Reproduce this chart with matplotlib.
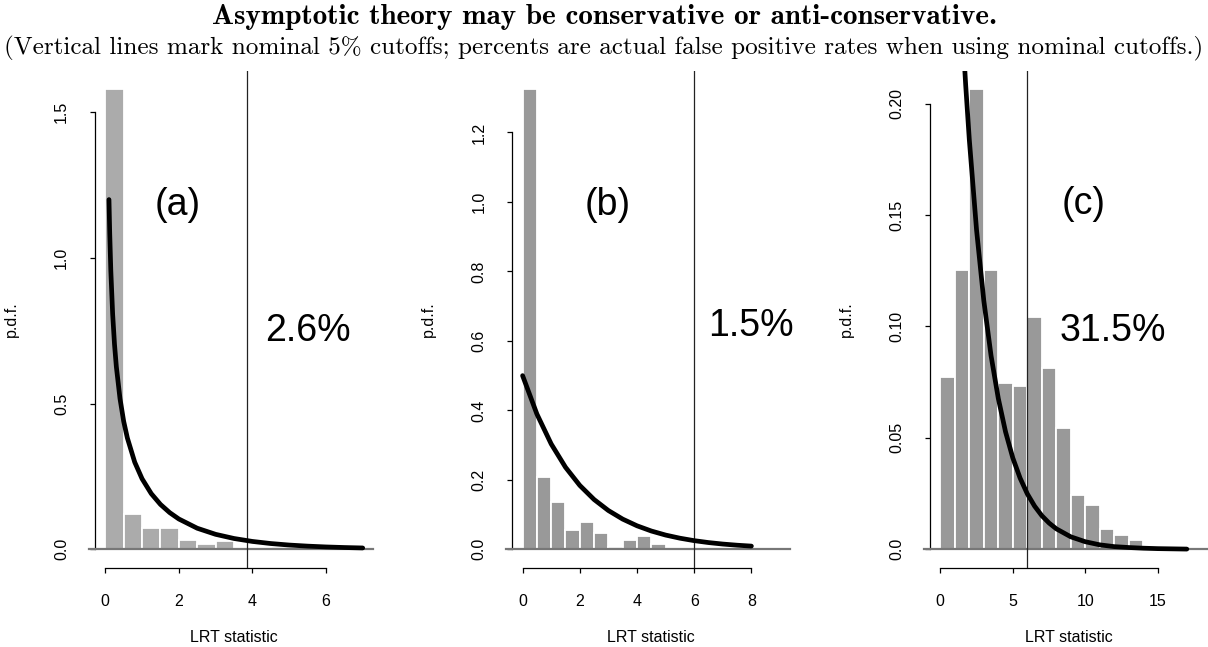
import numpy as np
import matplotlib
matplotlib.use("Agg")
import matplotlib.pyplot as plt

# ---------------- data ----------------
title = "Asymptotic theory may be conservative or anti-conservative."
subtitle = ("(Vertical lines mark nominal 5% cutoffs; percents are actual "
            "false positive rates when using nominal cutoffs.)")
panel_labels = ["(a)", "(b)", "(c)"]
fp_rates = ["2.6%", "1.5%", "31.5%"]
x_label = "LRT statistic"
y_label = "p.d.f."

cutoffs = [3.84, 5.99, 5.99]
bin_widths = [0.5, 0.5, 1.0]

hist_a = [1.578, 0.1215, 0.0733, 0.0733, 0.0332, 0.0195, 0.0298, 0.0, 0.0, 0.008]
hist_b = [1.324, 0.208, 0.1366, 0.0568, 0.0779, 0.047, 0.0067, 0.026, 0.0395,
          0.0164, 0.0, 0.005, 0.005, 0.0, 0.0, 0.004]
hist_c = [0.0773, 0.1254, 0.2064, 0.1254, 0.0745, 0.0734, 0.1042, 0.0814,
          0.0543, 0.0243, 0.0201, 0.0093, 0.0063, 0.0042, 0.001]

curve_a_x = [0.10, 0.12, 0.15, 0.20, 0.25, 0.30, 0.40, 0.50, 0.60, 0.80, 1.00,
             1.25, 1.50, 1.75, 2.00, 2.50, 3.00, 3.50, 4.00, 4.50, 5.00, 5.50,
             6.00, 6.50, 7.00]
curve_a_y = [1.200, 1.085, 0.956, 0.807, 0.704, 0.627, 0.517, 0.439, 0.382,
             0.299, 0.242, 0.191, 0.154, 0.126, 0.104, 0.0723, 0.0514, 0.0371,
             0.0270, 0.0198, 0.0146, 0.0109, 0.0081, 0.0061, 0.0046]

curve_b_x = [0.0, 0.5, 1.0, 1.5, 2.0, 2.5, 3.0, 3.5, 4.0, 4.5, 5.0, 5.5, 6.0,
             6.5, 7.0, 7.5, 8.0]
curve_b_y = [0.500, 0.3894, 0.3033, 0.2362, 0.1839, 0.1433, 0.1116, 0.0869,
             0.0677, 0.0527, 0.0410, 0.0320, 0.0249, 0.0194, 0.0151, 0.0118,
             0.0092]

curve_c_x = [1.0, 1.25, 1.5, 1.75, 2.0, 2.5, 3.0, 3.5, 4.0, 4.5, 5.0, 5.5, 6.0,
             6.5, 7.0, 7.5, 8.0, 9.0, 10.0, 11.0, 12.0, 13.0, 14.0, 15.0, 16.0,
             17.0]
curve_c_y = [0.3033, 0.2676, 0.2362, 0.2084, 0.1839, 0.1433, 0.1116, 0.0869,
             0.0677, 0.0527, 0.0410, 0.0320, 0.0249, 0.0194, 0.0151, 0.0118,
             0.0092, 0.0056, 0.0034, 0.0020, 0.0012, 0.0008, 0.0005, 0.0003,
             0.0002, 0.0001]

x_ticks = [[0, 2, 4, 6], [0, 2, 4, 6, 8], [0, 5, 10, 15]]
y_ticks = [[0.0, 0.5, 1.0, 1.5],
           [0.0, 0.2, 0.4, 0.6, 0.8, 1.0, 1.2],
           [0.0, 0.05, 0.10, 0.15, 0.20]]
y_ticklabels = [["0.0", "0.5", "1.0", "1.5"],
                ["0.0", "0.2", "0.4", "0.6", "0.8", "1.0", "1.2"],
                ["0.0", "0.05", "0.10", "0.15", "0.20"]]
x_data_ranges = [(0.0, 7.0), (0.0, 9.0), (0.0, 17.75)]

# label positions (data coords)
label_pos = [(1.98, 1.18), (2.97, 0.99), (9.89, 0.155)]
rate_pos = [(5.52, 0.75), (8.0, 0.644), (11.9, 0.098)]

bar_colors = ["#ababab", "#999999", "#999999"]

# ---------------- figure ----------------
plt.rcParams['font.family'] = ['Liberation Sans', 'DejaVu Sans']

W, H = 1208, 647
fig = plt.figure(figsize=(W / 100, H / 100), dpi=100)

lefts_px = [95, 512.3, 930]
width_px = 278
top_px, bottom_px = 71, 567.7

hists = [hist_a, hist_b, hist_c]
curves = [(curve_a_x, curve_a_y), (curve_b_x, curve_b_y), (curve_c_x, curve_c_y)]

for i in range(3):
    ax = fig.add_axes([lefts_px[i] / W, (H - bottom_px) / H,
                       width_px / W, (bottom_px - top_px) / H])
    heights = hists[i]
    bw = bin_widths[i]
    edges = np.arange(len(heights)) * bw
    ax.bar(edges, heights, width=bw, align='edge', color=bar_colors[i],
           edgecolor='white', linewidth=1.3, zorder=2)

    # baseline
    ax.axhline(0, xmin=-0.021, xmax=1.0, color='#777777', lw=1.6,
               clip_on=False, zorder=3)
    # cutoff
    ax.axvline(cutoffs[i], color='#222222', lw=0.9, zorder=3)
    # density curve
    cx, cy = curves[i]
    ax.plot(cx, cy, color='black', lw=3.4, solid_capstyle='round',
            zorder=4)

    lo, hi = x_data_ranges[i]
    ext = 0.04 * (hi - lo)
    ax.set_xlim(lo - ext, hi + ext)
    M = max(heights)
    ax.set_ylim(-0.04 * M, 1.04 * M)

    ax.set_xticks(x_ticks[i])
    ax.set_xticklabels([str(t) for t in x_ticks[i]], fontsize=11.5)
    ax.set_yticks(y_ticks[i])
    ax.set_yticklabels(y_ticklabels[i], rotation=90, va='center', fontsize=11.5)

    for s in ['top', 'right']:
        ax.spines[s].set_visible(False)
    ax.spines['left'].set_bounds(y_ticks[i][0], y_ticks[i][-1])
    ax.spines['bottom'].set_bounds(x_ticks[i][0], x_ticks[i][-1])
    ax.spines['left'].set_linewidth(0.9)
    ax.spines['bottom'].set_linewidth(0.9)
    ax.tick_params(direction='out', length=3.6, width=0.9, pad=15)

    ax.set_xlabel(x_label, fontsize=11.5)
    ax.xaxis.set_label_coords(0.5, -0.125)
    ax.set_ylabel(y_label, fontsize=11.5)
    ax.yaxis.set_label_coords(-0.275, 0.5)

    ax.text(label_pos[i][0], label_pos[i][1], panel_labels[i], fontsize=27,
            ha='center', va='center')
    ax.text(rate_pos[i][0], rate_pos[i][1], fp_rates[i], fontsize=27,
            ha='center', va='center')
    ax.patch.set_visible(False)

fig.text(0.5, 1 - 17 / H, title, family='cmb10', fontsize=21,
         ha='center', va='center')
fig.text(0.5, 1 - 48 / H, subtitle, family='cmr10', fontsize=18.1,
         ha='center', va='center')

fig.savefig("out.png", dpi=100)
